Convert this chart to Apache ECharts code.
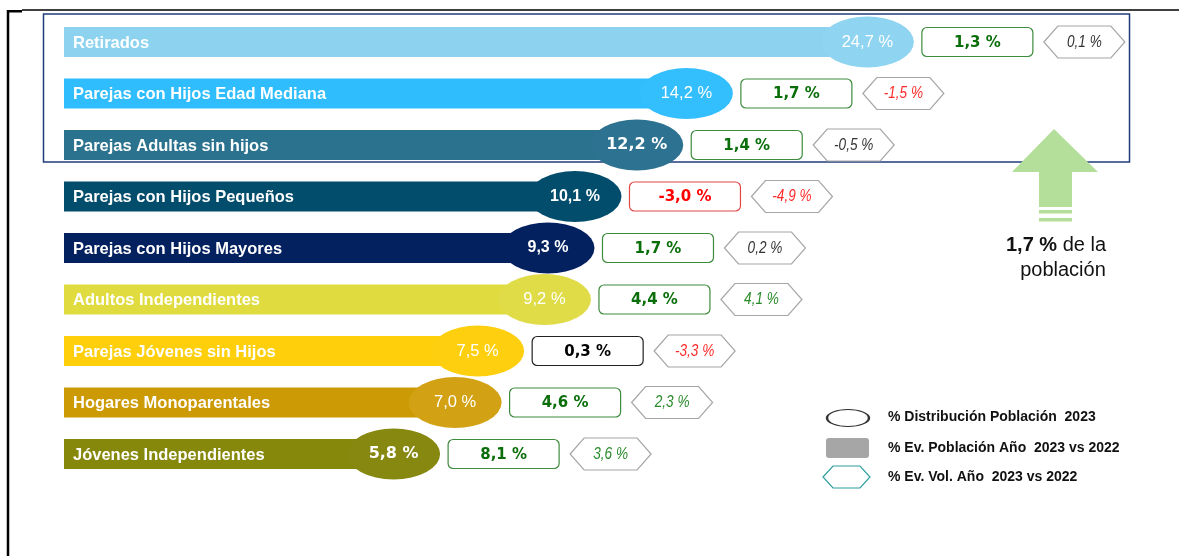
<!DOCTYPE html>
<html>
<head>
<meta charset="utf-8">
<script src="https://cdn.jsdelivr.net/npm/echarts@6/dist/echarts.min.js"></script>
<style>
  html, body { margin: 0; padding: 0; background: #fff; }
  #chart { width: 1179px; height: 556px; }
</style>
</head>
<body>
<div id="chart"></div>
<script>
// datos
var segmentos = [
  'Retirados',
  'Parejas con Hijos Edad Mediana',
  'Parejas Adultas sin hijos',
  'Parejas con Hijos Pequeños',
  'Parejas con Hijos Mayores',
  'Adultos Independientes',
  'Parejas Jóvenes sin Hijos',
  'Hogares Monoparentales',
  'Jóvenes Independientes'
];
var distribucion = [24.7, 14.2, 12.2, 10.1, 9.3, 9.2, 7.5, 7.0, 5.8];   // % Distribución Población 2023
var evPoblacion = [1.3, 1.7, 1.4, -3.0, 1.7, 4.4, 0.3, 4.6, 8.1];      // % Ev. Población 2023 vs 2022
var evVolumen = [0.1, -1.5, -0.5, -4.9, 0.2, 4.1, -3.3, 2.3, 3.6];     // % Ev. Vol. 2023 vs 2022
var totalPoblacion = 1.7;
var leyenda = [
  '% Distribución Población  2023',
  '% Ev. Población Año  2023 vs 2022',
  '% Ev. Vol. Año  2023 vs 2022'
];

// estilos por fila
var colores = ['#8dd3f0', '#2fbdfd', '#2b728e', '#034d6c', '#03205f', '#e0dc40', '#fecf0a', '#cc9a04', '#86880c'];
var coloresElipse = ['#8fd4f0', '#33befd', '#2d7290', '#034d6c', '#03205f', '#e0dc48', '#fecf0f', '#d3a214', '#868810'];
var FONT = '"Liberation Sans", Arial, sans-serif';
var VERDANA = '"DejaVu Sans", Verdana, sans-serif';
var estiloElipse = [
  ['normal', 16.5, FONT], ['normal', 16.5, FONT], ['bold', 16, VERDANA],
  ['bold', 16, FONT], ['bold', 16, FONT], ['normal', 16.5, FONT],
  ['normal', 16.5, FONT], ['normal', 16.5, FONT], ['bold', 16, VERDANA]
];

function pct(v) {
  return v.toFixed(1).replace('.', ',') + ' %';
}
function tono(v, verde, rojo, negro) {
  return Math.abs(v) < 1 ? negro : (v > 0 ? verde : rojo);
}

var chart = echarts.init(document.getElementById('chart'));

function renderFila(params, api) {
  var i = params.dataIndex;
  var fin = api.coord([api.value(0), api.value(1)]);
  var x0 = params.coordSys.x;
  var y = fin[1];
  var cx = fin[0] + 30, rx = 46.5, ry = 25.5;
  var bx = cx + rx + 8, bw = 111, bh = 29;
  var hx = bx + bw + 11, hw = 81, hh = 32, k = 14;
  var ep = evPoblacion[i], ev = evVolumen[i];
  var est = estiloElipse[i];
  return {
    type: 'group',
    children: [
      { type: 'rect', shape: { x: x0, y: y - 15, width: fin[0] - x0, height: 30 }, style: { fill: colores[i] } },
      { type: 'circle', shape: { cx: 0, cy: 0, r: ry }, x: cx, y: y, scaleX: rx / ry, style: { fill: coloresElipse[i] } },
      { type: 'text', style: { text: segmentos[i], x: x0 + 9, y: y + 1, verticalAlign: 'middle', fill: '#fff',
          fontWeight: 'bold', fontSize: 16.5, fontFamily: FONT } },
      { type: 'text', style: { text: pct(distribucion[i]), x: cx, y: y, align: 'center', verticalAlign: 'middle', fill: '#fff',
          fontWeight: est[0], fontSize: est[1], fontFamily: est[2] } },
      { type: 'rect', shape: { x: bx, y: y - bh / 2, width: bw, height: bh, r: 5 },
        style: { fill: '#fff', stroke: tono(ep, '#3d8b3d', '#e04848', '#222'), lineWidth: 1.2 } },
      { type: 'text', style: { text: pct(ep), x: bx + bw / 2, y: y + 1, align: 'center', verticalAlign: 'middle',
          fill: tono(ep, '#0a6e0a', '#ff0000', '#000'), fontWeight: 'bold', fontSize: 15, fontFamily: VERDANA } },
      { type: 'polygon', shape: { points: [[hx, y], [hx + k, y - hh / 2], [hx + hw - k, y - hh / 2], [hx + hw, y], [hx + hw - k, y + hh / 2], [hx + k, y + hh / 2]] },
        style: { fill: '#fff', stroke: '#a6a6a6', lineWidth: 1.2 } },
      // texto estrecho: se comprime horizontalmente
      { type: 'text', x: hx + hw / 2, y: y, scaleX: 0.8,
        style: { text: pct(ev), x: 0, y: 0, align: 'center', verticalAlign: 'middle',
          fill: tono(ev, '#2a8a2a', '#ff2a2a', '#333'), fontStyle: 'italic', fontSize: 17, fontFamily: FONT } }
    ]
  };
}

var option = {
  animation: false,
  grid: { left: 64, right: 184, top: 16.25, bottom: 76.25 },
  xAxis: { type: 'log', min: 2.32, max: 40, show: false },
  yAxis: { type: 'category', data: segmentos, inverse: true, show: false },
  graphic: [
    { type: 'line', shape: { x1: 22, y1: 10, x2: 1179, y2: 10 }, style: { stroke: '#000', lineWidth: 1.5 } },
    { type: 'rect', shape: { x: 7, y: 10, width: 15, height: 2.5 }, style: { fill: '#000' } },
    { type: 'line', shape: { x1: 8, y1: 10, x2: 8, y2: 556 }, style: { stroke: '#000', lineWidth: 2.5 } },
    { type: 'rect', shape: { x: 43.5, y: 14, width: 1086, height: 148 }, style: { fill: 'none', stroke: '#1f3c7c', lineWidth: 1.5 } },
    { type: 'polygon', shape: { points: [[1054, 129], [1098, 172], [1072, 172], [1072, 207], [1039, 207], [1039, 172], [1012, 172]] },
      style: { fill: '#b3df9a' } },
    { type: 'rect', shape: { x: 1039, y: 210, width: 33, height: 3.5 }, style: { fill: '#b3df9a' } },
    { type: 'rect', shape: { x: 1039, y: 218, width: 33, height: 3.5 }, style: { fill: '#b3df9a' } },
    { type: 'text', style: { text: '{b|' + pct(totalPoblacion) + '} de la', x: 1056, y: 245, align: 'center', verticalAlign: 'middle',
        fill: '#111', fontSize: 20, fontFamily: FONT,
        rich: { b: { fontWeight: 'bold', fontSize: 20, fontFamily: FONT, fill: '#111' } } } },
    { type: 'text', style: { text: 'población', x: 1063, y: 270, align: 'center', verticalAlign: 'middle',
        fill: '#111', fontSize: 20, fontFamily: FONT } },
    // leyenda
    { type: 'circle', shape: { cx: 0, cy: 0, r: 8.5 }, x: 848, y: 418, scaleX: 21 / 8.5,
      style: { fill: '#fff', stroke: '#333', lineWidth: 1, strokeNoScale: true } },
    { type: 'rect', shape: { x: 826, y: 438, width: 43, height: 20, r: 3 }, style: { fill: '#a6a6a6' } },
    { type: 'polygon', shape: { points: [[823, 477], [833, 466], [860, 466], [870, 477], [860, 488], [833, 488]] },
      style: { fill: '#fff', stroke: '#2f9e9e', lineWidth: 1.2 } },
    { type: 'text', style: { text: leyenda[0], x: 888, y: 417, verticalAlign: 'middle', fill: '#111', fontWeight: 'bold', fontSize: 14, fontFamily: FONT } },
    { type: 'text', style: { text: leyenda[1], x: 888, y: 448, verticalAlign: 'middle', fill: '#111', fontWeight: 'bold', fontSize: 14, fontFamily: FONT } },
    { type: 'text', style: { text: leyenda[2], x: 888, y: 477, verticalAlign: 'middle', fill: '#111', fontWeight: 'bold', fontSize: 14, fontFamily: FONT } }
  ],
  series: [
    {
      type: 'custom',
      clip: false,
      renderItem: renderFila,
      encode: { x: 0, y: 1 },
      data: distribucion.map(function (v, i) { return [v, i]; })
    }
  ]
};
chart.setOption(option);
</script>
</body>
</html>
